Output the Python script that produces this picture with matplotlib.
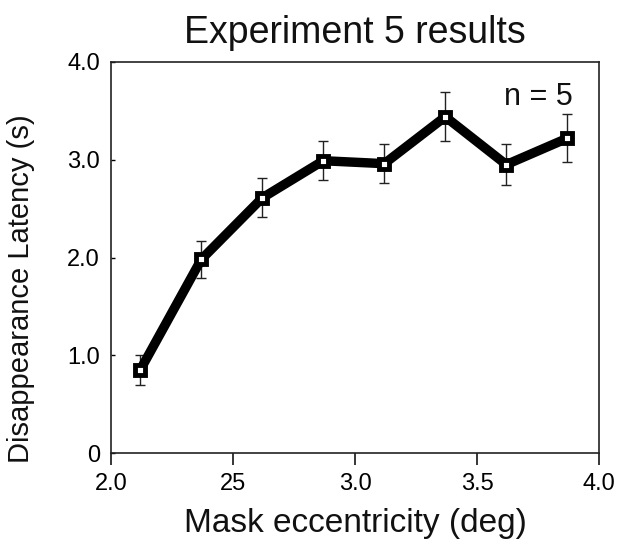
import matplotlib.pyplot as plt

plt.rcParams['font.family'] = ['Liberation Sans', 'DejaVu Sans']

eccentricity = [2.12, 2.37, 2.62, 2.87, 3.12, 3.37, 3.62, 3.87]
latency = [0.85, 1.98, 2.61, 2.99, 2.96, 3.44, 2.95, 3.22]
errors = [0.15, 0.19, 0.20, 0.20, 0.20, 0.25, 0.21, 0.245]
xtick_vals = [2.0, 2.5, 3.0, 3.5, 4.0]
xtick_labels = ['2.0', '25', '3.0', '3.5', '4.0']
ytick_vals = [0, 1.0, 2.0, 3.0, 4.0]
ytick_labels = ['0', '1.0', '2.0', '3.0', '4.0']

fig = plt.figure(figsize=(6.33, 5.45), dpi=100)
ax = fig.add_axes([111/633, 92/545, 488/633, 391/545])

ax.errorbar(eccentricity, latency, yerr=errors, fmt='none', ecolor='#222222',
            elinewidth=1.0, capsize=3.5, capthick=1.0, zorder=2)
ax.plot(eccentricity, latency, color='black', linewidth=6.8, marker='s',
        markersize=7.5, markerfacecolor='white', markeredgecolor='black',
        markeredgewidth=3.5, zorder=3)

ax.set_xlim(2.0, 4.0)
ax.set_ylim(0, 4.0)
ax.set_xticks(xtick_vals)
ax.set_xticklabels(xtick_labels)
ax.set_yticks(ytick_vals)
ax.set_yticklabels(ytick_labels)
ax.tick_params(axis='x', direction='out', length=8.5, width=1.1, labelsize=17, pad=6)
ax.tick_params(axis='y', direction='in', length=3, width=1.0, labelsize=17, pad=8)
for s in ax.spines.values():
    s.set_linewidth(1.2)
    s.set_color('#222222')

ax.text(0.947, 0.91, 'n = 5', transform=ax.transAxes, ha='right', va='center',
        fontsize=22, color='#111111')

ax.set_title('Experiment 5 results', fontsize=27, pad=14, color='#111111')
ax.set_xlabel('Mask eccentricity (deg)', fontsize=24, labelpad=9, color='#111111')
ax.set_ylabel('Disappearance Latency (s)', fontsize=21, color='#111111')
ax.yaxis.set_label_coords(-0.155, 0.42)

fig.savefig('out.png', dpi=100)
